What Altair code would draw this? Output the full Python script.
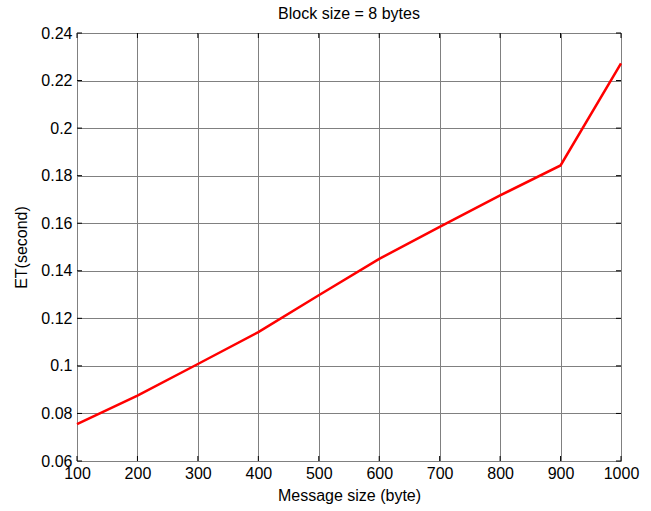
import altair as alt
import pandas as pd

msg_size = [100, 200, 300, 400, 500, 600, 700, 800, 900, 1000]
et_seconds = [0.0755, 0.0875, 0.1008, 0.1142, 0.1297, 0.1450, 0.1585, 0.1717, 0.1843, 0.2272]
x_ticks = [100, 200, 300, 400, 500, 600, 700, 800, 900, 1000]
y_ticks = [0.06, 0.08, 0.10, 0.12, 0.14, 0.16, 0.18, 0.20, 0.22, 0.24]

df = pd.DataFrame({"size": msg_size, "et": et_seconds})
xt = pd.DataFrame({"v": x_ticks})
yt = pd.DataFrame({"v": y_ticks})

W, H = 544, 428
FONT = "Liberation Sans"

xs = alt.Scale(domain=[100, 1000], nice=False, zero=False)
ys = alt.Scale(domain=[0.06, 0.24], nice=False, zero=False)

line = alt.Chart(df).mark_line(color="#ff0000", strokeWidth=2.5).encode(
    x=alt.X("size:Q", scale=xs, title="Message size (byte)",
            axis=alt.Axis(values=x_ticks, format="d", grid=True, gridColor="#808080",
                          gridWidth=1, tickSize=0, labelPadding=4, domain=False,
                          labelFontSize=16, titleFontSize=16, labelFont=FONT, titleFont=FONT,
                          labelColor="#000", titleColor="#000", titleFontWeight="normal",
                          titlePadding=6, labelFlush=False)),
    y=alt.Y("et:Q", scale=ys, title="ET(second)",
            axis=alt.Axis(values=y_ticks, format="~g", grid=True, gridColor="#808080",
                          gridWidth=1, tickSize=0, labelPadding=5, domain=False,
                          labelFontSize=16, titleFontSize=16, labelFont=FONT, titleFont=FONT,
                          labelColor="#000", titleColor="#000", titleFontWeight="normal",
                          titlePadding=11, labelFlush=False)),
)

tick_len = 5
tick_style = dict(color="#000000", strokeWidth=1)
bottom_ticks = alt.Chart(xt).mark_rule(**tick_style).encode(
    x=alt.X("v:Q", scale=xs), y=alt.value(H), y2=alt.value(H - tick_len))
top_ticks = alt.Chart(xt).mark_rule(**tick_style).encode(
    x=alt.X("v:Q", scale=xs), y=alt.value(0), y2=alt.value(tick_len))
left_ticks = alt.Chart(yt).mark_rule(**tick_style).encode(
    y=alt.Y("v:Q", scale=ys), x=alt.value(0), x2=alt.value(tick_len))
right_ticks = alt.Chart(yt).mark_rule(**tick_style).encode(
    y=alt.Y("v:Q", scale=ys), x=alt.value(W), x2=alt.value(W - tick_len))

chart = alt.layer(line, bottom_ticks, top_ticks, left_ticks, right_ticks).properties(
    width=W, height=H,
    title=alt.Title("Block size = 8 bytes", fontSize=16, font=FONT, fontWeight="normal",
                    color="#000", offset=3),
    autosize=alt.AutoSizeParams(type="none"),
    padding={"left": 77, "top": 33, "right": 30, "bottom": 50},
).configure_view(stroke="#000000", strokeWidth=1.5).configure(background="white")

chart.save("out.html", embed_options={"renderer": "svg", "actions": False})
